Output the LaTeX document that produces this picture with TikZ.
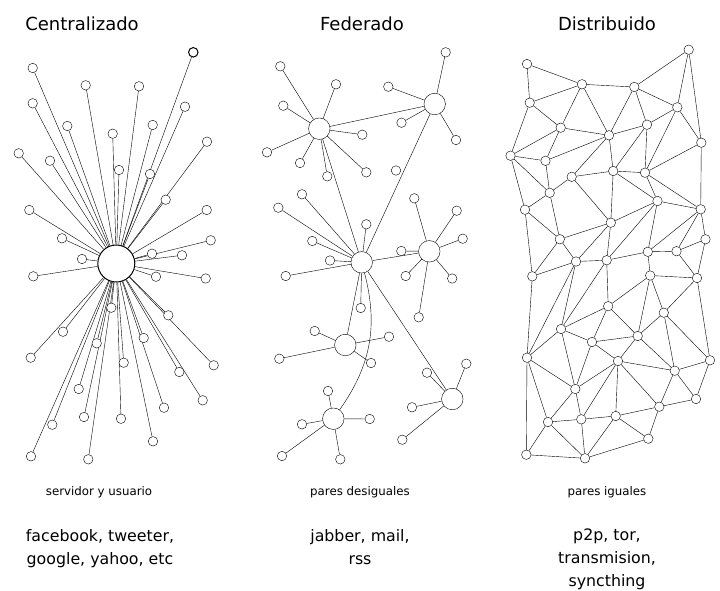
\documentclass[tikz,border=0pt]{standalone}
\usepackage{fontspec}
\setmainfont{DejaVu Sans}

\pgfdeclarelayer{back}
\pgfsetlayers{back,main}

\tikzset{
	leaf/.style={circle, draw, fill=white, inner sep=0pt, minimum size=9.5pt},
	hub/.style={circle, draw, fill=white, inner sep=0pt, minimum size=21.5pt},
	bighub/.style={circle, draw, fill=white, inner sep=0pt, minimum size=37pt},
	title/.style={font=\fontsize{18}{22}\selectfont, anchor=base},
	subtitle/.style={font=\fontsize{11.8}{14}\selectfont, anchor=base},
	examples/.style={font=\fontsize{15.8}{22.8}\selectfont, align=center, anchor=north, inner sep=0pt},
}

\begin{document}
\begin{tikzpicture}[x=1pt, y=-1pt, line width=1pt]
	\useasboundingbox (0,0) rectangle (720,590);

	\node[title] (tc) at (82,30) {Centralizado};
	\node[title] (tf) at (362,30) {Federado};
	\node[title] (td) at (607,30) {Distribuido};

	% centralizado
	\node[bighub] (c0) at (116.3,263.5) {};
	\foreach \x/\y [count=\i] in {193.3/52.3, 32.7/68, 85.7/85.3, 139/86.3, 32.7/103.3, 185/106.7, 67.3/126, 152.7/125, 112.7/133.7, 207/141.7, 18.7/153.3, 50/160.7, 119/170, 150/174, 165.7/199.7, 29.3/210, 206.7/210, 62/238.3, 210.7/240.3, 152/253.7, 82/259, 182/255.3, 33.3/276.3, 156/276.7, 205.7/278.5, 111.3/307.7, 168.3/315.3, 63/331.7, 96.7/343.3, 143.7/338, 30.7/357.7, 123.7/362.7, 213.7/365.3, 179.3/372, 78.7/389, 202.7/400.3, 164/407.7, 52.3/424.7, 84/417, 121/418.7, 153/441.3, 31/456.3, 88.3/459.3} {
		\node[leaf] (c\i) at (\x,\y) {};
		\begin{pgfonlayer}{back}
			\draw (c0) -- (c\i);
		\end{pgfonlayer}
	}

	% federado
	\node[hub] (fa) at (319.3,128.7) {};
	\node[hub] (fb) at (434.7,104) {};
	\node[hub] (fc) at (361.7,262.3) {};
	\node[hub] (fd) at (429.3,251.3) {};
	\node[hub] (fe) at (345.3,345) {};
	\node[hub] (ff) at (333.3,418.7) {};
	\node[hub] (fg) at (452.3,399) {};
	\node[leaf] (f0) at (396,170.5) {};
	\foreach \h/\x/\y [count=\i] in {fa/280.3/66.3, fa/336/84.3, fa/283.3/105.7, fa/362.3/134.7, fa/267/152.3, fa/300/163, fa/327.3/176.3, fa/366.3/172.3, fb/445.7/52.3, fb/388.3/86.7, fb/401.5/122.7, fb/456/140, fc/302/194.3, fc/278.3/207.7, fc/366.3/224.3, fc/312.3/241, fc/330/260.5, fc/285.7/276, fc/360.7/308, fd/414.3/198.3, fd/456.7/210.7, fd/462.7/238.7, fd/401.3/251, fd/405.7/276, fd/452.2/278.5, fd/418.7/317.3, fe/314.7/331, fe/389/336.7, fe/279.3/358.7, fe/371/363, ff/328/391, ff/302/424.3, ff/369.7/419, ff/282/456, ff/340.3/459.3, fg/466.3/363.7, fg/427/372.7, fg/412/407.3, fg/402.3/439.7} {
		\node[leaf] (f\i) at (\x,\y) {};
		\begin{pgfonlayer}{back}
			\draw (\h) -- (f\i);
		\end{pgfonlayer}
	}
	\begin{pgfonlayer}{back}
		\draw (fa) -- (fb) (fa) -- (fc) (fb) -- (fc) (fc) -- (fd) (fc) -- (fe) (fc) -- (fg);
		\draw (fc) to[bend left=25] (ff);
	\end{pgfonlayer}

	% distribuido
	\foreach \x/\y [count=\i] in {527/64, 582/84.3, 634.3/87, 688.7/49.7, 529.7/102.7, 677.3/107.3, 560.7/127.7, 647/124.7, 609/135.3, 701.3/142.7, 510.5/155.7, 545.5/160.8, 571.7/176.8, 613.2/171, 645/172.7, 549.7/192.8, 657.5/201, 525/209.7, 700.7/209.3, 610.8/222.7, 559.8/239.2, 705.5/239.3, 647.8/251.8, 676.5/251.2, 576/261.5, 606.7/260.2, 532.3/276.3, 650.2/275.5, 697/278, 608.2/306.2, 663.8/312.7, 561/329, 592/342, 637.7/336, 527/357.7, 618/361, 674.7/370.7, 710/360.3, 575.3/389, 696/399, 659.3/406.7, 548/422, 581.3/419.3, 615.7/416, 648.3/438.7, 526.3/454.7, 585/458.3}
		\node[leaf] (d\i) at (\x,\y) {};
	\begin{pgfonlayer}{back}
		\foreach \a/\b in {1/2, 1/5, 2/3, 3/4, 4/6, 4/10, 3/6, 3/8, 3/9, 2/5, 2/7, 2/9, 5/7, 5/11, 7/9, 7/11, 7/12, 9/12, 9/8, 9/13, 9/14, 8/6, 8/15, 8/14, 6/10, 6/15, 10/15, 10/19, 11/12, 11/16, 11/18, 12/16, 13/14, 13/16, 14/15, 14/17, 14/20, 13/20, 15/17, 15/19, 17/19, 16/18, 16/21, 18/21, 18/27, 20/17, 20/21, 20/25, 20/26, 21/25, 21/27, 17/23, 17/26, 19/22, 19/23, 19/24, 22/24, 22/29, 23/24, 23/28, 24/29, 28/29, 25/26, 25/27, 26/23, 27/35, 25/32, 25/35, 26/32, 26/30, 28/30, 28/31, 28/34, 29/31, 29/38, 30/32, 30/33, 30/34, 31/34, 31/37, 31/38, 32/35, 32/33, 32/39, 33/34, 33/36, 33/39, 34/36, 34/37, 35/39, 35/42, 35/46, 36/37, 36/39, 36/41, 36/43, 36/44, 37/38, 37/40, 37/41, 38/40, 40/41, 39/42, 39/43, 42/43, 42/46, 42/47, 43/44, 43/47, 44/41, 44/45, 44/47, 41/45, 46/47, 45/47}
			\draw (d\a) -- (d\b);
	\end{pgfonlayer}

	\node[subtitle] (sc) at (99,495) {servidor y usuario};
	\node[subtitle] (sf) at (360,495) {pares desiguales};
	\node[subtitle] (sd) at (607,495) {pares iguales};

	\node[examples] (ec) at (100,529) {facebook, tweeter,\\google, yahoo, etc};
	\node[examples] (ef) at (360,529) {jabber, mail,\\rss};
	\node[examples] (ed) at (607,529) {p2p, tor,\\transmision,\\syncthing};
\end{tikzpicture}
\end{document}
